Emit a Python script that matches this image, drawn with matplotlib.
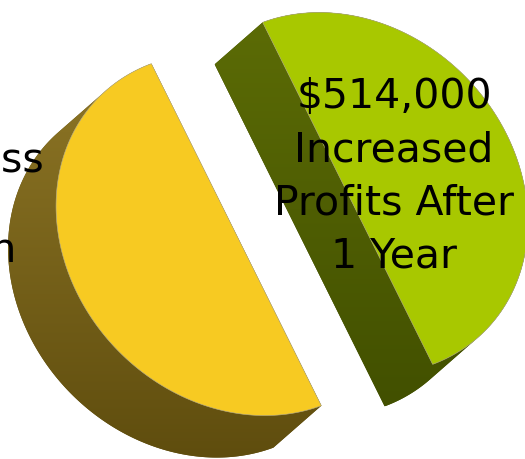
import numpy as np
import matplotlib.pyplot as plt
from matplotlib.patches import Polygon
from matplotlib.colors import LinearSegmentedColormap

# two halves of the pie
labels = ["Business\nin\nAction", "$514,000\nIncreased\nProfits After\n1 Year"]
values = [50, 50]
top_colors = ["#F7CA22", "#A8C800"]
side_colors = [("#8E7626", "#5F4D0E"), ("#5C6C06", "#425000")]

# tilted view of the pie, in pixels (y runs down)
center = np.array([292.0, 214.0])
U = np.array([85.0, 171.0])      # image of the radius at angle 0
V = np.array([-159.0, 59.0])     # image of the radius at angle 90
depth = np.array([-48.0, 42.0])  # thickness of the pie
explode = 0.35


def convex_hull(pts):
    pts = sorted(map(tuple, np.round(pts, 3)))
    def cross(o, a, b):
        return (a[0] - o[0]) * (b[1] - o[1]) - (a[1] - o[1]) * (b[0] - o[0])
    lower, upper = [], []
    for p in pts:
        while len(lower) >= 2 and cross(lower[-2], lower[-1], p) <= 0:
            lower.pop()
        lower.append(p)
    for p in reversed(pts):
        while len(upper) >= 2 and cross(upper[-2], upper[-1], p) <= 0:
            upper.pop()
        upper.append(p)
    return np.array(lower[:-1] + upper[:-1])


fig = plt.figure(figsize=(5.25, 4.59), dpi=100)
ax = fig.add_axes([0, 0, 1, 1])

fracs = np.array(values, dtype=float) / sum(values)
edges = np.concatenate([[0], np.cumsum(fracs)]) * 2 * np.pi

for i in range(len(values)):
    a0, a1 = edges[i], edges[i + 1]
    mid = (a0 + a1) / 2
    c = center + explode * (np.cos(mid) * U + np.sin(mid) * V)
    phi = np.linspace(a0, a1, 240)
    arc = c + np.outer(np.cos(phi), U) + np.outer(np.sin(phi), V)
    top = np.vstack([c, arc])

    # side walls: the top face swept down by the thickness
    body = convex_hull(np.vstack([top, top + depth]))
    side = Polygon(body, closed=True, facecolor=side_colors[i][1], edgecolor='none')
    ax.add_patch(side)
    cmap = LinearSegmentedColormap.from_list('side%d' % i, side_colors[i])
    x0, y0 = body.min(axis=0)
    x1, y1 = body.max(axis=0)
    grad = np.linspace(0, 1, 256).reshape(-1, 1)
    im = ax.imshow(grad, cmap=cmap, extent=(x0, x1, y1, y0), aspect='auto',
                   interpolation='bilinear', zorder=1)
    im.set_clip_path(side)

    ax.add_patch(Polygon(top, closed=True, facecolor=top_colors[i],
                         edgecolor='#B8B090', linewidth=0.4, zorder=2))

ax.text(-47, 141, labels[0], ha='center', va='top', fontsize=29.5,
        linespacing=1.15, color='black', zorder=5)
ax.text(394, 77, labels[1], ha='center', va='top', fontsize=29.5,
        linespacing=1.42, color='black', zorder=5)

ax.set_xlim(0, 525)
ax.set_ylim(459, 0)
ax.axis('off')

fig.savefig('out.png', dpi=100)
